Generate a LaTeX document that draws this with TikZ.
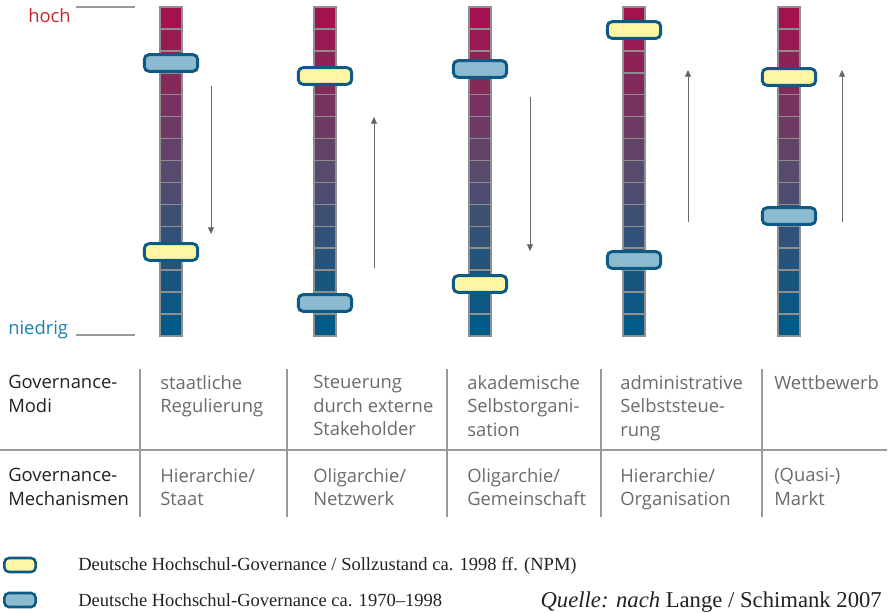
\documentclass[tikz,border=0pt]{standalone}
\usepackage{fontspec}
\setmainfont{Liberation Serif}
\newfontfamily\tablefont{Open Sans}
\usetikzlibrary{positioning, arrows.meta}

\definecolor{barhigh}{HTML}{A3124F}
\definecolor{barmid}{HTML}{584A6C}
\definecolor{barlow}{HTML}{005A87}
\definecolor{seggray}{HTML}{8E8E8E}
\definecolor{sliderline}{HTML}{0D5B84}
\definecolor{sollfill}{HTML}{FFF6A5}
\definecolor{istfill}{HTML}{8CBAD0}
\definecolor{hochred}{HTML}{C1272D}
\definecolor{niedrigblue}{HTML}{1B80AE}
\definecolor{headtext}{HTML}{222222}
\definecolor{celltext}{HTML}{6B6B6B}
\definecolor{rulegray}{HTML}{9A9A9A}
\definecolor{arrowgray}{HTML}{666666}

\begin{document}
\begin{tikzpicture}[x=0.75pt, y=-0.75pt,
    segment/.style={draw=seggray, line width=1.1pt},
    slider/.style={draw=sliderline, line width=2.2pt, rounded corners=3.5pt,
        minimum width=40pt, minimum height=12.5pt, inner sep=0pt},
    soll/.style={slider, fill=sollfill},
    ist/.style={slider, fill=istfill},
    trend/.style={draw=arrowgray, line width=0.6pt, -{Triangle[length=5pt, width=4.5pt]}},
    head/.style={font=\tablefont\fontsize{13.8}{17.6}\selectfont, text=headtext,
        align=left, anchor=north west, inner sep=0pt},
    cell/.style={head, text=celltext},
    rule/.style={draw=rulegray, line width=0.8pt},
    legend/.style={font=\fontsize{13.9}{16}\selectfont, text=headtext, inner sep=0pt}]
    \useasboundingbox (0,0) rectangle (891,613);

    % scales
    \foreach \c/\xc in {1/171,2/325,3/480,4/634,5/789}
    {
    \begin{scope}[shift={(\xc,0)}]
        \foreach \j in {0,...,14}
        {
        \ifnum\j<7
            \pgfmathtruncatemacro\pct{100-100*\j/7}
            \def\segcol{barhigh!\pct!barmid}
        \else
            \pgfmathtruncatemacro\pct{100-100*(\j-7)/7}
            \def\segcol{barmid!\pct!barlow}
        \fi
        \draw[segment, fill=\segcol] (-11,{7+21.93*\j}) rectangle (11,{7+21.93*(\j+1)});
        }
    \end{scope}
    }

    % hoch / niedrig
    \node[font=\tablefont\fontsize{13.8}{16}\selectfont, text=hochred, anchor=base west, inner sep=0pt] (hoch) at (28,23) {hoch};
    \node[font=\tablefont\fontsize{13.8}{16}\selectfont, text=niedrigblue, anchor=base west, inner sep=0pt] (niedrig) at (8,334) {niedrig};
    \coordinate (H1) at (76,7);
    \coordinate (H2) at (135,7);
    \coordinate (N1) at (76,335);
    \coordinate (N2) at (135,335);
    \draw[rule] (H1) -- (H2);
    \draw[rule] (N1) -- (N2);

    % trends
    \foreach \i/\xa/\ya/\yb in {1/211/86/234, 2/374/268/117, 3/530/97/251, 4/688/222/70, 5/842/222/70}
    {
    \coordinate (T\i) at (\xa,\ya);
    \coordinate (E\i) at (\xa,\yb);
    \draw[trend] (T\i) -- (E\i);
    }

    % sliders
    \node[ist] (I1) at (171,63) {};
    \node[soll] (S1) at (171,252) {};
    \node[soll] (S2) at (325,76) {};
    \node[ist] (I2) at (325,303) {};
    \node[ist] (I3) at (480,69) {};
    \node[soll] (S3) at (480,284) {};
    \node[soll] (S4) at (634,30) {};
    \node[ist] (I4) at (634,260) {};
    \node[soll] (S5) at (789,77) {};
    \node[ist] (I5) at (789,216) {};

    % table
    \coordinate (R0) at (0,450);
    \coordinate (R1) at (887,450);
    \draw[rule] (R0) -- (R1);
    \foreach \i/\xv in {1/140,2/287,3/447,4/601,5/762}
    {
    \coordinate (V\i) at (\xv,369);
    \coordinate (W\i) at (\xv,517);
    \draw[rule] (V\i) -- (W\i);
    }
    \node[head] (modi) at (8,375) {Governance-\\Modi};
    \node[cell] (modi1) at (160,375) {staatliche\\Regulierung};
    \node[cell] (modi2) at (313,375) {Steuerung\\durch externe\\Stakeholder};
    \node[cell] (modi3) at (467,375) {akademische\\Selbstorgani-\\sation};
    \node[cell] (modi4) at (620,375) {administrative\\Selbststeue-\\rung};
    \node[cell] (modi5) at (774,375) {Wettbewerb};
    \node[head] (mech) at (8,468) {Governance-\\Mechanismen};
    \node[cell] (mech1) at (160,468) {Hierarchie/\\Staat};
    \node[cell] (mech2) at (313,468) {Oligarchie/\\Netzwerk};
    \node[cell] (mech3) at (467,468) {Oligarchie/\\Gemeinschaft};
    \node[cell] (mech4) at (620,468) {Hierarchie/\\Organisation};
    \node[cell] (mech5) at (774,468) {(Quasi-)\\Markt};

    % legend
    \node[soll, minimum width=23.5pt, minimum height=10.5pt, line width=1.9pt] (LS) at (20,565) {};
    \node[ist, minimum width=23.5pt, minimum height=10.5pt, line width=1.9pt] (LI) at (20,600) {};
    \node[legend, anchor=base west] (LStext) at (78,570) {Deutsche Hochschul-Governance / Sollzustand ca. 1998 ff. (NPM)};
    \node[legend, anchor=base west] (LItext) at (78,606) {Deutsche Hochschul-Governance ca. 1970--1998};
    \node[legend, font=\fontsize{17}{20}\selectfont, anchor=base east] (quelle) at (882,607) {\textit{Quelle: nach} Lange / Schimank 2007};
\end{tikzpicture}
\end{document}
